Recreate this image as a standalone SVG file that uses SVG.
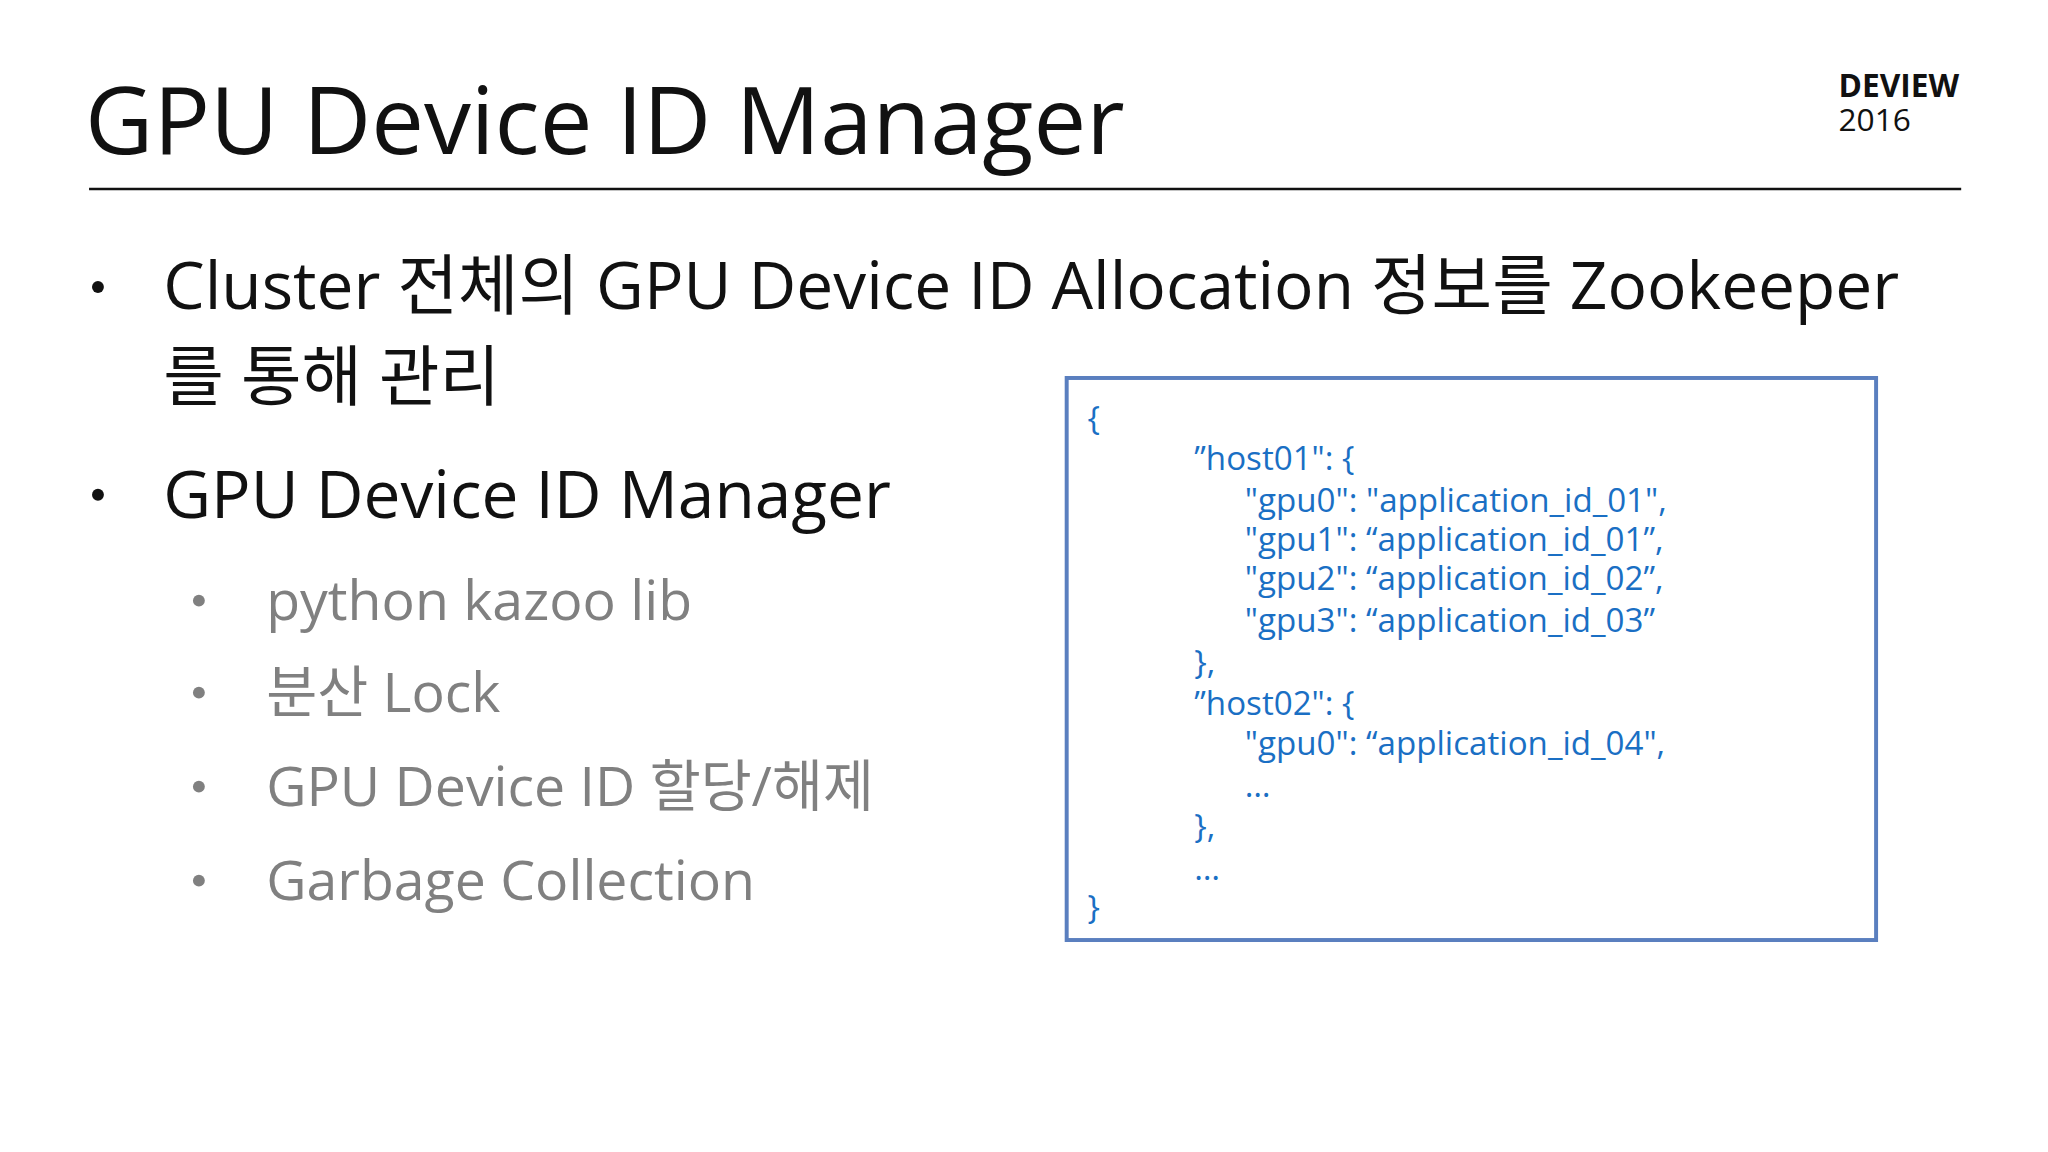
<svg xmlns="http://www.w3.org/2000/svg" width="2048" height="1152" viewBox="0 0 2048 1152">
<style>
text{font-family:"Open Sans","Noto Sans","Noto Sans CJK KR",sans-serif}
.b{font-size:66.5px;fill:#111}
.s{font-size:56px;fill:#808080}
.c{font-size:33.5px;fill:#1a6fc4}
</style>
<rect width="2048" height="1152" fill="#fff"/>
<g transform="scale(0.9895)">
<g id="title"><text x="86" y="156" font-size="95" fill="#111">GPU Device ID Manager</text>
<line x1="90" y1="191" x2="1982" y2="191" stroke="#111" stroke-width="2.5"/></g>
<g id="logo"><text x="1858" y="98" font-size="32" font-weight="bold" fill="#111">DEVIEW</text><text x="1858" y="132" font-size="32" fill="#111">2016</text></g>
<g id="bullets">
<circle cx="99" cy="290" r="6" fill="#111"/>
<text class="b" x="165" y="312">Cluster 전체의 GPU Device ID Allocation 정보를 Zookeeper</text>
<text class="b" x="165" y="404">를 통해 관리</text>
<circle cx="99" cy="500" r="6" fill="#111"/>
<text class="b" x="165" y="524">GPU Device ID Manager</text>
<circle cx="201" cy="607" r="6" fill="#808080"/><text class="s" x="269" y="627">python kazoo lib</text>
<circle cx="201" cy="700" r="6" fill="#808080"/><text class="s" x="269" y="720">분산 Lock</text>
<circle cx="201" cy="795" r="6" fill="#808080"/><text class="s" x="269" y="815">GPU Device ID 할당/해제</text>
<circle cx="201" cy="890" r="6" fill="#808080"/><text class="s" x="269" y="910">Garbage Collection</text>
</g>
<g id="codebox">
<rect x="1078" y="382" width="818" height="568" fill="#fff" stroke="#5a7fbf" stroke-width="4"/>
<text class="c" x="1099" y="435">{</text>
<text class="c" x="1207" y="475">”host01": {</text>
<text class="c" x="1258" y="517">"gpu0": "application_id_01",</text>
<text class="c" x="1258" y="557">"gpu1": “application_id_01”,</text>
<text class="c" x="1258" y="596">"gpu2": “application_id_02”,</text>
<text class="c" x="1258" y="639">"gpu3": “application_id_03”</text>
<text class="c" x="1207" y="681">},</text>
<text class="c" x="1207" y="723">”host02": {</text>
<text class="c" x="1258" y="763">"gpu0": “application_id_04",</text>
<text class="c" x="1258" y="805">…</text>
<text class="c" x="1207" y="847">},</text>
<text class="c" x="1207" y="889">…</text>
<text class="c" x="1099" y="929">}</text>
</g>
</g>
</svg>
